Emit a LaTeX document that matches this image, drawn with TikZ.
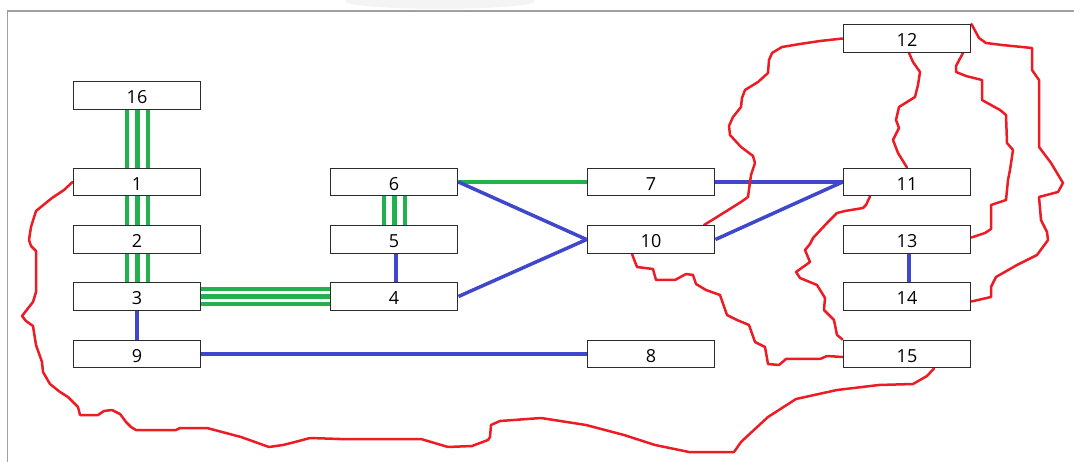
\documentclass[tikz,border=0pt]{standalone}
\usepackage{fontspec}
\setmainfont{Open Sans}
\usetikzlibrary{backgrounds}
\definecolor{gr}{HTML}{22B14C}
\definecolor{bl}{HTML}{3F48CC}
\definecolor{rd}{HTML}{ED1C24}
\definecolor{bx}{HTML}{2B2B2B}
\definecolor{fr}{HTML}{A0A0A0}
\begin{document}
\begin{tikzpicture}[x=1pt,y=-1pt,
  box/.style={draw=bx,line width=1.4pt,fill=white,minimum width=127.5pt,minimum height=27.5pt,inner sep=0pt,text height=16.6pt,text depth=0pt,font=\fontsize{18}{20}\selectfont},
  gline/.style={draw=gr,line width=4pt},
  gmid/.style={draw=gr,line width=5pt},
  bline/.style={draw=bl,line width=3.5pt},
  rline/.style={draw=rd,line width=2.5pt,line join=round,line cap=round},
  frame/.style={draw=fr,line width=1.2pt}]
\useasboundingbox (0,0) rectangle (1074,462);
% faint shadow at top and frame
\begin{scope}
\clip (0,0) rectangle (1074,11);
\fill[gray!9] (440,1) ellipse [x radius=95, y radius=8];
\end{scope}
\draw[frame] (7.5,462) -- (7.5,11) -- (1074,11);
% boxes
\node[box] (n12) at (907,38.5) {12};
\node[box] (n16) at (137,95.5) {16};
\node[box] (n1) at (137,182) {1};
\node[box] (n6) at (394,182) {6};
\node[box] (n7) at (651,182) {7};
\node[box] (n11) at (907,182) {11};
\node[box] (n2) at (137,239.5) {2};
\node[box] (n5) at (394,239.5) {5};
\node[box] (n10) at (651,239.5) {10};
\node[box] (n13) at (907,239.5) {13};
\node[box] (n3) at (137,296.5) {3};
\node[box] (n4) at (394,296.5) {4};
\node[box] (n14) at (907,296.5) {14};
\node[box] (n9) at (137,354) {9};
\node[box] (n8) at (651,354) {8};
\node[box] (n15) at (907,354) {15};
\begin{scope}[on background layer]
% triple green links
\foreach \a/\b in {n16/n1,n1/n2,n2/n3,n6/n5}{
  \draw[gline] ([xshift=-10pt]\a.south) -- ([xshift=-10pt]\b.north);
  \draw[gmid] ([xshift=0.5pt]\a.south) -- ([xshift=0.5pt]\b.north);
  \draw[gline] ([xshift=11pt]\a.south) -- ([xshift=11pt]\b.north);
}
\draw[gline] ([yshift=7pt]n3.east) -- ([yshift=7pt]n4.west);
\draw[gmid] ([yshift=-0.5pt]n3.east) -- ([yshift=-0.5pt]n4.west);
\draw[gline] ([yshift=-8pt]n3.east) -- ([yshift=-8pt]n4.west);
% single links
\draw[gline] (n6.east) -- (n7.west);
\draw[bline] (n7.east) -- (n11.west);
\draw[bline] (n6.east) -- (n10.west);
\draw[bline] (n4.east) -- (n10.west);
\draw[bline] (n10.east) -- (n11.west);
\draw[bline] ([xshift=2pt]n5.south) -- ([xshift=2pt]n4.north);
\draw[bline] (n3.south) -- (n9.north);
\draw[bline] (n9.east) -- (n8.west);
\draw[bline] ([xshift=2pt]n13.south) -- ([xshift=2pt]n14.north);
% red curves
\draw[rline] (n1.west) -- (64,190) -- (52,198) -- (36,211) -- (31,227) -- (29,240) -- (31,246) -- (36,251) -- (36,292) -- (33,302) -- (22,316) -- (26,321) -- (33,326) -- (36,345) -- (42,362) -- (43,372) -- (50,384) -- (60,392) -- (68,397) -- (78,407) -- (80,415) -- (98,415) -- (104,411) -- (112,410) -- (120,414) -- (126,422) -- (131,427) -- (136,430) -- (176,430) -- (180,428) -- (207,428) -- (241,437) -- (269,447) -- (283,445) -- (295,442) -- (310,438) -- (340,439) -- (421,439) -- (448,447) -- (472,446) -- (488,440) -- (490,437) -- (491,425) -- (500,421) -- (541,418) -- (586,425) -- (624,435) -- (655,445) -- (689,452) -- (734,452) -- (741,442) -- (755,429) -- (768,417) -- (796,399) -- (837,390) -- (879,385) -- (913,384) -- (927,376) -- ([xshift=27pt]n15.south);
\draw[rline] (n12.west) -- (820,41) -- (800,44) -- (782,47) -- (772,53) -- (769,60) -- (768,73) -- (758,82) -- (745,90) -- (742,98) -- (741,107) -- (733,117) -- (729,126) -- (730,135) -- (741,147) -- (753,156) -- (755,163) -- (751,175) -- (748,197) -- (741,202) -- (717,217) -- ([xshift=53pt]n10.north);
\draw[rline] ([xshift=2pt]n12.south) -- (913,62) -- (920,72) -- (918,85) -- (915,97) -- (899,107) -- (896,120) -- (899,128) -- (893,140) -- (898,153) -- (n11.north);
\draw[rline] ([xshift=56pt]n12.south) -- (956,66) -- (956,72) -- (966,76) -- (982,80) -- (982,100) -- (1000,110) -- (1006,115) -- (1007,143) -- (1013,150) -- (1010,170) -- (1008,180) -- (1006,200) -- (991,205) -- (991,229) -- (985,233) -- ([yshift=2pt]n13.east);
\draw[rline] (n12.north east) -- (979,38) -- (986,43) -- (1002,45) -- (1032,48) -- (1032,70) -- (1039,80) -- (1039,147) -- (1051,163) -- (1063,183) -- (1058,192) -- (1039,197) -- (1041,220) -- (1047,232) -- (1048,240) -- (1037,255) -- (1017,265) -- (996,277) -- (991,287) -- (991,297) -- ([yshift=-5pt]n14.east);
\draw[rline] ([xshift=-37pt]n11.south) -- (866,205) -- (863,208) -- (845,211) -- (837,213) -- (827,223) -- (813,238) -- (810,244) -- (805,250) -- (810,262) -- (796,272) -- (800,278) -- (817,285) -- (825,298) -- (824,310) -- (834,320) -- (837,335) -- (n15.north west);
\draw[rline] ([xshift=-19pt]n10.south) -- (637,267) -- (653,269) -- (656,280) -- (675,280) -- (686,274) -- (693,275) -- (696,284) -- (706,290) -- (720,295) -- (727,315) -- (737,320) -- (749,325) -- (755,342) -- (765,347) -- (768,364) -- (779,365) -- (786,359) -- (820,359) -- (827,356) -- ([yshift=-3pt]n15.west);
\end{scope}
\end{tikzpicture}
\end{document}
